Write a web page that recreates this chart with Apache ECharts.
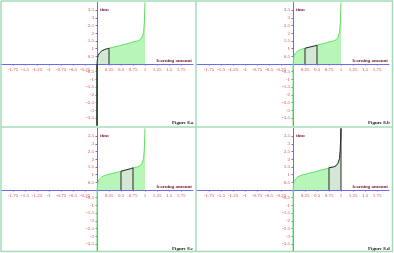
<!DOCTYPE html>
<html>
<head>
<meta charset="utf-8">
<script src="https://cdn.jsdelivr.net/npm/echarts@6/dist/echarts.min.js"></script>
<style>
  html, body { margin: 0; padding: 0; background: #fff; }
  #main { width: 394px; height: 253px; }
</style>
</head>
<body>
<div id="main"></div>
<script>
// curve (learning amount -> time)
var curveX = [0, 0.002, 0.01, 0.025, 0.05, 0.1, 0.15, 0.2, 0.25, 0.35, 0.45, 0.5, 0.6, 0.7, 0.75, 0.85, 0.9, 0.94, 0.97, 0.985, 0.995, 1];
var curveY = [-4, 0, 0.35, 0.55, 0.7, 0.85, 0.93, 0.98, 1.02, 1.1, 1.17, 1.22, 1.3, 1.38, 1.44, 1.5, 1.58, 1.75, 2.05, 2.6, 3.5, 4];

var figNames = ['Figure 8.a', 'Figure 8.b', 'Figure 8.c', 'Figure 8.d'];
var shadeFrom = [0, 0.25, 0.5, 0.75];
var shadeTo = [0.25, 0.5, 0.75, 1];

var chart = echarts.init(document.getElementById('main'));

var curve = curveX.map(function(x, i) { return [x, curveY[i]] });

var panelLeft = [1, 197, 1, 197];
var panelTop = [2.4, 2.4, 128.4, 128.4];
var gridW = 192, gridH = 123.2;

var grids = [], xAxes = [], yAxes = [], series = [], graphics = [];

var axisColor = '#6a6af5';
var labelColor = '#e03c3c';

function hideZero(v) {
    if (Math.abs(v) < 1e-9) return '';
    return String(v);
}

for (let i = 0; i < 4; i++) {
    grids.push({left: panelLeft[i], top: panelTop[i], width: gridW, height: gridH, outerBoundsMode: 'none', containLabel: false});

    // axes sit in the middle of the grid (range is symmetric round 0)
    xAxes.push({
        gridIndex: i, type: 'value', min: -2, max: 2, interval: 0.25,
        position: 'bottom', offset: -gridH / 2,
        axisLine: {onZero: false, lineStyle: {color: axisColor, width: 1}},
        axisTick: {show: true, length: 1.5, lineStyle: {color: axisColor}},
        splitLine: {show: false},
        axisLabel: {fontSize: 5, color: labelColor, fontFamily: 'Liberation Serif', margin: 3, formatter: hideZero,
            showMinLabel: false, showMaxLabel: false},
        name: 'learning amount', nameLocation: 'end', nameGap: -1,
        nameTextStyle: {fontSize: 5, color: '#7a1f2a', fontWeight: 'bold', fontFamily: 'Liberation Serif', align: 'right', verticalAlign: 'bottom', padding: [0, 0, 1, 0]}
    });

    yAxes.push({
        gridIndex: i, type: 'value', min: -4, max: 4, interval: 0.5,
        position: 'left', offset: -gridW / 2,
        axisLine: {onZero: false, lineStyle: {color: axisColor, width: 1}},
        axisTick: {show: true, length: 1.5, lineStyle: {color: axisColor}},
        splitLine: {show: false},
        axisLabel: {fontSize: 5, color: labelColor, fontFamily: 'Liberation Serif', margin: 3, formatter: hideZero,
            showMinLabel: false, showMaxLabel: false},
        name: 'time', nameLocation: 'end', nameGap: -5,
        nameTextStyle: {fontSize: 5, color: '#7a1f2a', fontWeight: 'bold', fontFamily: 'Liberation Serif', align: 'left', verticalAlign: 'top', padding: [0, 0, 0, 3]}
    });

    series.push({
        type: 'line', xAxisIndex: i, yAxisIndex: i,
        data: curve, symbol: 'none', z: 3,
        lineStyle: {color: '#5fe05f', width: 1},
        areaStyle: {color: '#b8f5b8', opacity: 1}
    });

    let a = shadeFrom[i], b = shadeTo[i];
    let shade = [[a, 0]];
    curve.forEach(function(p) {
        if (p[0] >= a && p[0] <= b) shade.push(p);
    });
    shade.push([b, 0]);

    series.push({
        type: 'line', xAxisIndex: i, yAxisIndex: i,
        data: shade, symbol: 'none', z: 4,
        lineStyle: {color: '#2a2a2a', width: 1},
        areaStyle: {color: '#d4e6d4', opacity: 1}
    });

    graphics.push({
        type: 'text', left: panelLeft[i] + 171, top: panelTop[i] + 118,
        style: {text: figNames[i], fontSize: 5, fontWeight: 'bold', fontFamily: 'Liberation Serif', fill: '#222'}
    });
}

// panel frames
var frameColor = '#a3dcb8';
[1, 196, 392.5].forEach(function(x) {
    graphics.push({type: 'line', shape: {x1: x, y1: 1, x2: x, y2: 252}, style: {stroke: frameColor, lineWidth: 1.5}, z: 10});
});
[1, 127, 251.5].forEach(function(y) {
    graphics.push({type: 'line', shape: {x1: 1, y1: y, x2: 393, y2: y}, style: {stroke: frameColor, lineWidth: 1.5}, z: 10});
});

chart.setOption({
    animation: false,
    grid: grids,
    xAxis: xAxes,
    yAxis: yAxes,
    series: series,
    graphic: graphics
});
</script>
</body>
</html>
